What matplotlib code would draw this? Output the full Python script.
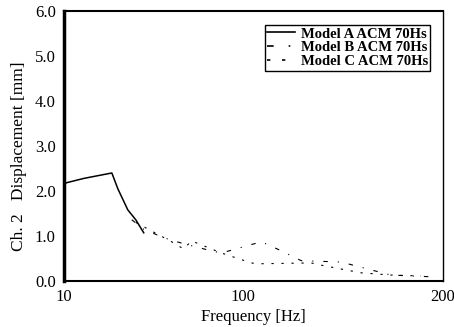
import matplotlib
matplotlib.use("Agg")
import matplotlib.pyplot as plt

plt.rcParams['font.family'] = ['Liberation Serif', 'DejaVu Serif']

# Model A (solid)
freq_a = [10, 11, 20, 34, 37, 42, 46, 50]
disp_a = [2.12, 2.18, 2.28, 2.40, 2.05, 1.58, 1.36, 1.07]

# Model B (dash-dot)
freq_b = [44, 50, 60, 69, 82, 89, 109, 119, 129, 149, 174, 195]
disp_b = [1.36, 1.15, 0.96, 0.84, 0.69, 0.62, 0.87, 0.67, 0.45, 0.42, 0.13, 0.09]

# Model C (dashed)
freq_c = [46, 64, 70, 74, 89, 104, 107, 134, 139, 159, 174, 189]
disp_c = [1.30, 0.87, 0.71, 0.89, 0.62, 0.40, 0.38, 0.40, 0.35, 0.18, 0.13, 0.11]

labels = ["Model A ACM 70Hs", "Model B ACM 70Hs", "Model C ACM 70Hs"]
xticks = [10, 100, 200]
yticks = [0.0, 1.0, 2.0, 3.0, 4.0, 5.0, 6.0]

fig = plt.figure(figsize=(4.54, 3.27), dpi=100)
ax = fig.add_axes([0.141, 0.141, 0.834, 0.825])

ax.plot(freq_a, disp_a, color='black', lw=1.1, linestyle='-', label=labels[0])
ax.plot(freq_b, disp_b, color='black', lw=0.8, linestyle=(0, (4, 9, 1, 9)), label=labels[1])
ax.plot(freq_c, disp_c, color='black', lw=0.8, linestyle=(0, (2, 7)), label=labels[2])

ax.set_xlim(10, 200)
ax.set_ylim(0, 6)
ax.set_xticks(xticks)
ax.set_xticklabels([str(t) for t in xticks])
ax.set_yticks(yticks)
ax.set_yticklabels([f"{t:.1f}" for t in yticks])
ax.tick_params(length=0, labelsize=12, pad=6)

ax.spines['left'].set_linewidth(2.5)
ax.spines['bottom'].set_linewidth(1.5)
ax.spines['top'].set_linewidth(1.5)
ax.spines['right'].set_linewidth(1.0)

ax.set_xlabel("Frequency [Hz]", fontsize=12, labelpad=3)
ax.set_ylabel("Ch. 2   Displacement [mm]", fontsize=12.5)
ax.yaxis.set_label_coords(-0.097, 0.463)

leg = ax.legend(loc='upper right', frameon=True, fancybox=False,
                edgecolor='black', framealpha=1, borderpad=0.15, labelspacing=0.05,
                handlelength=1.9, handletextpad=0.4, bbox_to_anchor=(0.986, 0.975),
                prop={'weight': 'bold', 'size': 10.5})
leg.get_frame().set_linewidth(1.0)
for h in leg.get_lines():
    h.set_linewidth(1.2)

fig.savefig("out.png", dpi=100)
